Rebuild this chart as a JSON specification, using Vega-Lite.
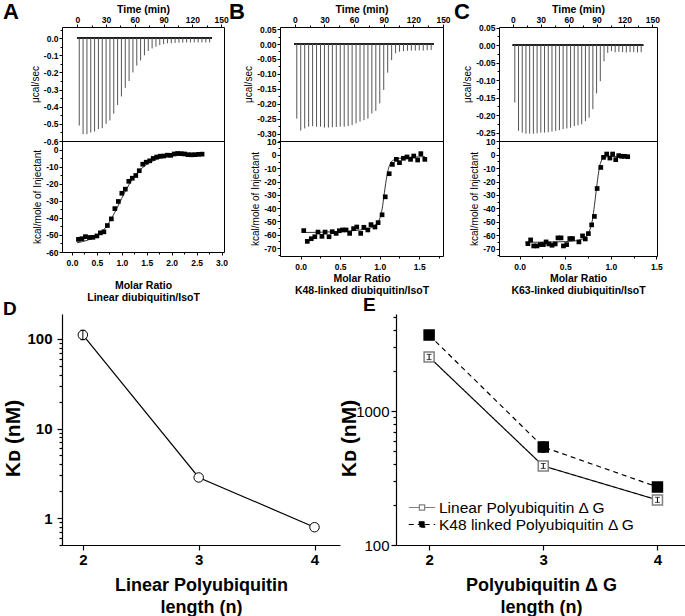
{
  "$schema": "https://vega.github.io/schema/vega-lite/v6.json",
  "padding": {"left": 2, "top": 0, "right": 0, "bottom": 0},
  "config": {
    "font": "Liberation Sans",
    "view": {"stroke": "black", "strokeWidth": 1},
    "axis": {"grid": false, "domainColor": "black", "tickColor": "black", "labelColor": "black", "titleColor": "black", "labelFlush": false, "labelOverlap": false, "labelBound": false, "labelFont": "Liberation Sans", "titleFont": "Liberation Sans"},
    "title": {"font": "Liberation Sans", "fontWeight": "bold", "color": "black"}
  },
  "datasets": {
    "spikesA": [
      {"t": 2, "p": -0.51}, {"t": 6, "p": -0.56}, {"t": 10, "p": -0.56}, {"t": 14, "p": -0.55}, {"t": 18, "p": -0.545},
      {"t": 22, "p": -0.53}, {"t": 26, "p": -0.525}, {"t": 30, "p": -0.5}, {"t": 34, "p": -0.48}, {"t": 38, "p": -0.44},
      {"t": 42, "p": -0.39}, {"t": 46, "p": -0.34}, {"t": 50, "p": -0.29}, {"t": 54, "p": -0.25}, {"t": 58, "p": -0.2},
      {"t": 62, "p": -0.16}, {"t": 66, "p": -0.13}, {"t": 70, "p": -0.1}, {"t": 74, "p": -0.075}, {"t": 78, "p": -0.06},
      {"t": 82, "p": -0.05}, {"t": 86, "p": -0.04}, {"t": 90, "p": -0.035}, {"t": 94, "p": -0.03}, {"t": 98, "p": -0.03},
      {"t": 102, "p": -0.028}, {"t": 106, "p": -0.027}, {"t": 110, "p": -0.026}, {"t": 114, "p": -0.025}, {"t": 118, "p": -0.025},
      {"t": 122, "p": -0.025}, {"t": 126, "p": -0.025}, {"t": 130, "p": -0.025}, {"t": 134, "p": -0.025}, {"t": 138, "p": -0.025}
    ],
    "spikesB": [
      {"t": 2, "p": -0.25}, {"t": 6, "p": -0.29}, {"t": 10, "p": -0.283}, {"t": 14, "p": -0.277}, {"t": 18, "p": -0.275},
      {"t": 22, "p": -0.277}, {"t": 26, "p": -0.277}, {"t": 30, "p": -0.28}, {"t": 34, "p": -0.28}, {"t": 38, "p": -0.279},
      {"t": 42, "p": -0.278}, {"t": 46, "p": -0.277}, {"t": 50, "p": -0.277}, {"t": 54, "p": -0.275}, {"t": 58, "p": -0.272},
      {"t": 62, "p": -0.266}, {"t": 66, "p": -0.26}, {"t": 70, "p": -0.255}, {"t": 74, "p": -0.25}, {"t": 78, "p": -0.233},
      {"t": 82, "p": -0.224}, {"t": 86, "p": -0.199}, {"t": 90, "p": -0.154}, {"t": 94, "p": -0.096}, {"t": 98, "p": -0.054},
      {"t": 102, "p": -0.031}, {"t": 106, "p": -0.026}, {"t": 110, "p": -0.024}, {"t": 114, "p": -0.023}, {"t": 118, "p": -0.022},
      {"t": 122, "p": -0.022}, {"t": 126, "p": -0.021}, {"t": 130, "p": -0.022}, {"t": 134, "p": -0.021}, {"t": 138, "p": -0.02}
    ],
    "spikesC": [
      {"t": 2, "p": -0.164}, {"t": 6, "p": -0.245}, {"t": 10, "p": -0.25}, {"t": 14, "p": -0.253}, {"t": 18, "p": -0.253},
      {"t": 22, "p": -0.253}, {"t": 26, "p": -0.252}, {"t": 30, "p": -0.25}, {"t": 34, "p": -0.25}, {"t": 38, "p": -0.249},
      {"t": 42, "p": -0.247}, {"t": 46, "p": -0.245}, {"t": 50, "p": -0.243}, {"t": 54, "p": -0.24}, {"t": 58, "p": -0.238},
      {"t": 62, "p": -0.236}, {"t": 66, "p": -0.231}, {"t": 70, "p": -0.229}, {"t": 74, "p": -0.226}, {"t": 78, "p": -0.217},
      {"t": 82, "p": -0.207}, {"t": 86, "p": -0.183}, {"t": 90, "p": -0.138}, {"t": 94, "p": -0.103}, {"t": 98, "p": -0.046},
      {"t": 102, "p": -0.022}, {"t": 106, "p": -0.017}, {"t": 110, "p": -0.02}, {"t": 114, "p": -0.019}, {"t": 118, "p": -0.02},
      {"t": 122, "p": -0.021}, {"t": 126, "p": -0.02}, {"t": 130, "p": -0.02}, {"t": 134, "p": -0.021}, {"t": 138, "p": -0.02}
    ],
    "isoA": [
      {"mr": 0.13, "h": -52.6}, {"mr": 0.2, "h": -52.2}, {"mr": 0.27, "h": -51.0}, {"mr": 0.35, "h": -51.5}, {"mr": 0.42, "h": -51.4},
      {"mr": 0.5, "h": -50.6}, {"mr": 0.57, "h": -48.8}, {"mr": 0.64, "h": -48.2}, {"mr": 0.71, "h": -44.5}, {"mr": 0.79, "h": -40.6},
      {"mr": 0.86, "h": -34.6}, {"mr": 0.93, "h": -30.4}, {"mr": 1.0, "h": -25.6}, {"mr": 1.07, "h": -23.2}, {"mr": 1.14, "h": -18.6},
      {"mr": 1.21, "h": -16.8}, {"mr": 1.28, "h": -15.2}, {"mr": 1.35, "h": -12.4}, {"mr": 1.42, "h": -8.6}, {"mr": 1.49, "h": -7.4},
      {"mr": 1.56, "h": -6.6}, {"mr": 1.63, "h": -5.2}, {"mr": 1.7, "h": -4.4}, {"mr": 1.77, "h": -3.9}, {"mr": 1.84, "h": -3.8},
      {"mr": 1.91, "h": -3.3}, {"mr": 1.98, "h": -3.4}, {"mr": 2.05, "h": -2.6}, {"mr": 2.12, "h": -2.3}, {"mr": 2.19, "h": -2.4},
      {"mr": 2.26, "h": -2.6}, {"mr": 2.33, "h": -3.0}, {"mr": 2.4, "h": -3.1}, {"mr": 2.47, "h": -3.0}, {"mr": 2.54, "h": -2.8},
      {"mr": 2.61, "h": -2.7}
    ],
    "fitA": [
      {"mr": 0.1, "h": -54.6}, {"mr": 0.2, "h": -54.0}, {"mr": 0.3, "h": -53.2}, {"mr": 0.4, "h": -52.0}, {"mr": 0.5, "h": -50.3},
      {"mr": 0.6, "h": -48.0}, {"mr": 0.7, "h": -44.7}, {"mr": 0.8, "h": -40.0}, {"mr": 0.9, "h": -34.5}, {"mr": 1.0, "h": -28.5},
      {"mr": 1.1, "h": -22.8}, {"mr": 1.2, "h": -18.0}, {"mr": 1.3, "h": -14.0}, {"mr": 1.4, "h": -11.0}, {"mr": 1.5, "h": -8.7},
      {"mr": 1.6, "h": -7.0}, {"mr": 1.7, "h": -5.7}, {"mr": 1.8, "h": -4.8}, {"mr": 2.0, "h": -3.7}, {"mr": 2.2, "h": -3.1},
      {"mr": 2.4, "h": -2.8}, {"mr": 2.65, "h": -2.6}
    ],
    "isoB": [
      {"mr": 0.04, "h": -56.9}, {"mr": 0.085, "h": -65}, {"mr": 0.135, "h": -63}, {"mr": 0.18, "h": -61.5}, {"mr": 0.22, "h": -58},
      {"mr": 0.27, "h": -61.2}, {"mr": 0.31, "h": -58}, {"mr": 0.36, "h": -61.5}, {"mr": 0.4, "h": -57.7}, {"mr": 0.45, "h": -59},
      {"mr": 0.49, "h": -57}, {"mr": 0.53, "h": -56.4}, {"mr": 0.575, "h": -56.4}, {"mr": 0.62, "h": -59}, {"mr": 0.67, "h": -55.4},
      {"mr": 0.71, "h": -54.2}, {"mr": 0.76, "h": -59}, {"mr": 0.8, "h": -54.4}, {"mr": 0.85, "h": -56.4}, {"mr": 0.89, "h": -52.4},
      {"mr": 0.94, "h": -54.2}, {"mr": 0.98, "h": -50.9}, {"mr": 1.03, "h": -45}, {"mr": 1.07, "h": -31.5}, {"mr": 1.12, "h": -14.1},
      {"mr": 1.16, "h": -7.1}, {"mr": 1.21, "h": -3.3}, {"mr": 1.25, "h": -5.8}, {"mr": 1.3, "h": -2.5}, {"mr": 1.345, "h": -1.5},
      {"mr": 1.39, "h": -3.3}, {"mr": 1.43, "h": -0.8}, {"mr": 1.48, "h": -3.8}, {"mr": 1.52, "h": 1}, {"mr": 1.57, "h": -3.3}
    ],
    "fitB": [
      {"mr": 0.04, "h": -58.3}, {"mr": 0.2, "h": -58.2}, {"mr": 0.4, "h": -57.8}, {"mr": 0.6, "h": -57.2}, {"mr": 0.8, "h": -56.0},
      {"mr": 0.9, "h": -54.5}, {"mr": 0.95, "h": -52.5}, {"mr": 1.0, "h": -48}, {"mr": 1.03, "h": -41}, {"mr": 1.06, "h": -28},
      {"mr": 1.09, "h": -16}, {"mr": 1.12, "h": -8.5}, {"mr": 1.15, "h": -5}, {"mr": 1.2, "h": -3.2}, {"mr": 1.3, "h": -2.2},
      {"mr": 1.45, "h": -1.5}, {"mr": 1.57, "h": -1.2}
    ],
    "isoC": [
      {"mr": 0.09, "h": -66.3}, {"mr": 0.12, "h": -63.5}, {"mr": 0.154, "h": -68}, {"mr": 0.19, "h": -68}, {"mr": 0.227, "h": -67},
      {"mr": 0.26, "h": -67}, {"mr": 0.29, "h": -65}, {"mr": 0.32, "h": -66.5}, {"mr": 0.355, "h": -67.5}, {"mr": 0.39, "h": -66.5},
      {"mr": 0.42, "h": -62}, {"mr": 0.454, "h": -62}, {"mr": 0.48, "h": -68}, {"mr": 0.516, "h": -67}, {"mr": 0.55, "h": -62.5},
      {"mr": 0.58, "h": -62.5}, {"mr": 0.65, "h": -65}, {"mr": 0.69, "h": -60.5}, {"mr": 0.72, "h": -62.8}, {"mr": 0.754, "h": -58.8},
      {"mr": 0.79, "h": -52.3}, {"mr": 0.82, "h": -46}, {"mr": 0.85, "h": -25.2}, {"mr": 0.89, "h": -9.5}, {"mr": 0.92, "h": -2},
      {"mr": 0.955, "h": 0.5}, {"mr": 0.99, "h": -2.5}, {"mr": 1.02, "h": 0.5}, {"mr": 1.054, "h": -3.7}, {"mr": 1.087, "h": -0.7},
      {"mr": 1.12, "h": -1.2}, {"mr": 1.15, "h": -1.2}, {"mr": 1.185, "h": -1.5}
    ],
    "fitC": [
      {"mr": 0.06, "h": -65.3}, {"mr": 0.2, "h": -65.2}, {"mr": 0.4, "h": -65.0}, {"mr": 0.6, "h": -64.3}, {"mr": 0.7, "h": -62.5},
      {"mr": 0.75, "h": -59}, {"mr": 0.78, "h": -54}, {"mr": 0.8, "h": -48}, {"mr": 0.82, "h": -38}, {"mr": 0.84, "h": -27},
      {"mr": 0.86, "h": -16}, {"mr": 0.88, "h": -8}, {"mr": 0.9, "h": -4}, {"mr": 0.93, "h": -2}, {"mr": 1.0, "h": -1.3},
      {"mr": 1.19, "h": -1.2}
    ],
    "dataD": [
      {"n": 2, "kd": 111, "lo": 98, "hi": 125},
      {"n": 3, "kd": 2.84},
      {"n": 4, "kd": 0.79}
    ],
    "dataE": [
      {"series": "Linear Polyubiquitin Δ G", "n": 2, "kd": 2530, "lo": 2420, "hi": 2650},
      {"series": "Linear Polyubiquitin Δ G", "n": 3, "kd": 389, "lo": 373, "hi": 406},
      {"series": "Linear Polyubiquitin Δ G", "n": 4, "kd": 217, "lo": 208, "hi": 227},
      {"series": "K48 linked Polyubiquitin Δ G", "n": 2, "kd": 3690, "lo": 3580, "hi": 3800},
      {"series": "K48 linked Polyubiquitin Δ G", "n": 3, "kd": 539, "lo": 490, "hi": 590},
      {"series": "K48 linked Polyubiquitin Δ G", "n": 4, "kd": 271, "lo": 263, "hi": 279}
    ]
  },
  "columns": 1,
  "align": "none",
  "spacing": -8,
  "resolve": {"scale": {"fill": "independent", "stroke": "independent", "strokeDash": "independent"}},
  "concat": [
    {
      "columns": 3,
      "bounds": "flush",
      "spacing": {"row": 0, "column": 56},
      "concat": [
        {
          "width": 162, "height": 114,
          "title": {"text": "A", "anchor": "start", "frame": "group", "dx": -59, "dy": 20, "offset": 0, "fontSize": 22},
          "data": {"name": "spikesA"},
          "layer": [
            {"mark": {"type": "rule", "color": "#222", "strokeWidth": 1},
             "encoding": {"x": {"datum": 0, "type": "quantitative"}, "x2": {"datum": 140}, "y": {"datum": 0, "type": "quantitative"}}},
            {"mark": {"type": "rule", "color": "#555", "strokeWidth": 1},
             "encoding": {
               "x": {"field": "t", "type": "quantitative", "scale": {"domain": [-16, 153], "nice": false, "zero": false},
                     "axis": {"orient": "top", "tickCount": 100, "values": [0, 15, 30, 45, 60, 75, 90, 105, 120, 135, 150], "format": "d", "labelExpr": "datum.value % 30 == 0 ? datum.label : ''", "tickSize": {"condition": {"test": "datum.value % 30 == 0", "value": 3}, "value": 2}, "title": "Time (min)", "titleFontSize": 10.5, "titleFontWeight": "bold", "titlePadding": 1, "labelFontSize": 8.5, "labelFontWeight": "bold", "labelPadding": 0, "domain": false}},
               "y": {"field": "p", "type": "quantitative", "scale": {"domain": [-0.6, 0.065], "nice": false, "zero": false},
                     "axis": {"tickCount": 100, "values": [0.05, 0, -0.05, -0.1, -0.15, -0.2, -0.25, -0.3, -0.35, -0.4, -0.45, -0.5, -0.55, -0.6], "format": ".1f", "labelExpr": "abs(datum.value*10 - round(datum.value*10)) < 0.001 ? replace(datum.label, '\u2212', '-') : ''", "tickSize": {"condition": {"test": "abs(datum.value*10 - round(datum.value*10)) < 0.001", "value": 3}, "value": 2}, "title": "μcal/sec", "titleFontSize": 10, "titleFontWeight": "normal", "titlePadding": 3, "labelFontSize": 8.5, "labelFontWeight": "bold", "labelPadding": 1, "domain": false}},
               "y2": {"datum": 0}
             }}
          ]
        },
        {
          "width": 163, "height": 114,
          "title": {"text": "B", "anchor": "start", "frame": "group", "dx": -51, "dy": 20, "offset": 0, "fontSize": 22},
          "data": {"name": "spikesB"},
          "layer": [
            {"mark": {"type": "rule", "color": "#222", "strokeWidth": 1},
             "encoding": {"x": {"datum": 0, "type": "quantitative"}, "x2": {"datum": 140}, "y": {"datum": 0, "type": "quantitative"}}},
            {"mark": {"type": "rule", "color": "#555", "strokeWidth": 1},
             "encoding": {
               "x": {"field": "t", "type": "quantitative", "scale": {"domain": [-15, 150], "nice": false, "zero": false},
                     "axis": {"orient": "top", "tickCount": 100, "values": [0, 15, 30, 45, 60, 75, 90, 105, 120, 135, 150], "format": "d", "labelExpr": "datum.value % 30 == 0 ? datum.label : ''", "tickSize": {"condition": {"test": "datum.value % 30 == 0", "value": 3}, "value": 2}, "title": "Time (min)", "titleFontSize": 10.5, "titleFontWeight": "bold", "titlePadding": 1, "labelFontSize": 8.5, "labelFontWeight": "bold", "labelPadding": 0, "domain": false}},
               "y": {"field": "p", "type": "quantitative", "scale": {"domain": [-0.325, 0.057], "nice": false, "zero": false},
                     "axis": {"tickCount": 100, "values": [0.05, 0.025, 0, -0.025, -0.05, -0.075, -0.1, -0.125, -0.15, -0.175, -0.2, -0.225, -0.25, -0.275, -0.3, -0.325], "format": ".2f", "labelExpr": "abs(datum.value*20 - round(datum.value*20)) < 0.001 ? replace(datum.label, '\u2212', '-') : ''", "tickSize": {"condition": {"test": "abs(datum.value*20 - round(datum.value*20)) < 0.001", "value": 3}, "value": 2}, "title": "μcal/sec", "titleFontSize": 10, "titleFontWeight": "normal", "titlePadding": 3, "labelFontSize": 8.5, "labelFontWeight": "bold", "labelPadding": 1, "domain": false}},
               "y2": {"datum": 0}
             }}
          ]
        },
        {
          "width": 158, "height": 114,
          "title": {"text": "C", "anchor": "start", "frame": "group", "dx": -45, "dy": 20, "offset": 0, "fontSize": 22},
          "data": {"name": "spikesC"},
          "layer": [
            {"mark": {"type": "rule", "color": "#222", "strokeWidth": 1},
             "encoding": {"x": {"datum": 0, "type": "quantitative"}, "x2": {"datum": 140}, "y": {"datum": 0, "type": "quantitative"}}},
            {"mark": {"type": "rule", "color": "#555", "strokeWidth": 1},
             "encoding": {
               "x": {"field": "t", "type": "quantitative", "scale": {"domain": [-15, 155], "nice": false, "zero": false},
                     "axis": {"orient": "top", "tickCount": 100, "values": [0, 15, 30, 45, 60, 75, 90, 105, 120, 135, 150], "format": "d", "labelExpr": "datum.value % 30 == 0 ? datum.label : ''", "tickSize": {"condition": {"test": "datum.value % 30 == 0", "value": 3}, "value": 2}, "title": "Time (min)", "titleFontSize": 10.5, "titleFontWeight": "bold", "titlePadding": 1, "labelFontSize": 8.5, "labelFontWeight": "bold", "labelPadding": 0, "domain": false}},
               "y": {"field": "p", "type": "quantitative", "scale": {"domain": [-0.274, 0.052], "nice": false, "zero": false},
                     "axis": {"tickCount": 100, "values": [0.05, 0.025, 0, -0.025, -0.05, -0.075, -0.1, -0.125, -0.15, -0.175, -0.2, -0.225, -0.25], "format": ".2f", "labelExpr": "abs(datum.value*20 - round(datum.value*20)) < 0.001 ? replace(datum.label, '\u2212', '-') : ''", "tickSize": {"condition": {"test": "abs(datum.value*20 - round(datum.value*20)) < 0.001", "value": 3}, "value": 2}, "title": "μcal/sec", "titleFontSize": 10, "titleFontWeight": "normal", "titlePadding": 3, "labelFontSize": 8.5, "labelFontWeight": "bold", "labelPadding": 1, "domain": false}},
               "y2": {"datum": 0}
             }}
          ]
        },
        {
          "width": 162, "height": 111,
          "layer": [
            {"data": {"name": "fitA"},
             "mark": {"type": "line", "color": "black", "strokeWidth": 0.8, "interpolate": "monotone"},
             "encoding": {"x": {"field": "mr", "type": "quantitative"}, "y": {"field": "h", "type": "quantitative"}}},
            {"data": {"name": "isoA"},
             "mark": {"type": "square", "color": "black", "size": 22, "filled": true, "opacity": 1},
             "encoding": {
               "x": {"field": "mr", "type": "quantitative", "scale": {"domain": [-0.2, 3.05], "nice": false, "zero": false},
                     "axis": {"tickCount": 100, "values": [0, 0.25, 0.5, 0.75, 1, 1.25, 1.5, 1.75, 2, 2.25, 2.5, 2.75, 3], "format": ".1f", "labelExpr": "abs(datum.value*2 - round(datum.value*2)) < 0.001 ? datum.label : ''", "tickSize": {"condition": {"test": "abs(datum.value*2 - round(datum.value*2)) < 0.001", "value": 3}, "value": 2}, "title": ["Molar Ratio", "Linear diubiquitin/IsoT"], "titleFontSize": 10.5, "titleFontWeight": "bold", "titleLineHeight": 12, "titlePadding": 14, "labelFontSize": 8.5, "labelFontWeight": "bold", "labelPadding": 3, "domain": false}},
               "y": {"field": "h", "type": "quantitative", "scale": {"domain": [-60, 5], "nice": false, "zero": false},
                     "axis": {"tickCount": 100, "values": [5, 0, -5, -10, -15, -20, -25, -30, -35, -40, -45, -50, -55, -60], "format": "d", "labelExpr": "datum.value % 10 == 0 ? replace(datum.label, '\u2212', '-') : ''", "tickSize": {"condition": {"test": "datum.value % 10 == 0", "value": 3}, "value": 2}, "title": "kcal/mole of Injectant", "titleFontSize": 10, "titleFontWeight": "normal", "titlePadding": 3, "labelFontSize": 8.5, "labelFontWeight": "bold", "labelPadding": 1, "domain": false}}
             }}
          ]
        },
        {
          "width": 163, "height": 115,
          "layer": [
            {"data": {"name": "fitB"},
             "mark": {"type": "line", "color": "black", "strokeWidth": 0.8, "interpolate": "monotone"},
             "encoding": {"x": {"field": "mr", "type": "quantitative"}, "y": {"field": "h", "type": "quantitative"}}},
            {"data": {"name": "isoB"},
             "mark": {"type": "square", "color": "black", "size": 22, "filled": true, "opacity": 1},
             "encoding": {
               "x": {"field": "mr", "type": "quantitative", "scale": {"domain": [-0.26, 1.8], "nice": false, "zero": false},
                     "axis": {"tickCount": 100, "values": [0, 0.25, 0.5, 0.75, 1, 1.25, 1.5, 1.75], "format": ".1f", "labelExpr": "abs(datum.value*2 - round(datum.value*2)) < 0.001 ? datum.label : ''", "tickSize": {"condition": {"test": "abs(datum.value*2 - round(datum.value*2)) < 0.001", "value": 3}, "value": 2}, "title": ["Molar Ratio", "K48-linked diubiquitin/IsoT"], "titleFontSize": 10.5, "titleFontWeight": "bold", "titleLineHeight": 12, "titlePadding": 3, "labelFontSize": 8.5, "labelFontWeight": "bold", "labelPadding": 3, "domain": false}},
               "y": {"field": "h", "type": "quantitative", "scale": {"domain": [-76, 10.5], "nice": false, "zero": false},
                     "axis": {"tickCount": 100, "values": [10, 5, 0, -5, -10, -15, -20, -25, -30, -35, -40, -45, -50, -55, -60, -65, -70, -75], "format": "d", "labelExpr": "datum.value % 10 == 0 ? replace(datum.label, '\u2212', '-') : ''", "tickSize": {"condition": {"test": "datum.value % 10 == 0", "value": 3}, "value": 2}, "title": "kcal/mole of Injectant", "titleFontSize": 10, "titleFontWeight": "normal", "titlePadding": 3, "labelFontSize": 8.5, "labelFontWeight": "bold", "labelPadding": 1, "domain": false}}
             }}
          ]
        },
        {
          "width": 158, "height": 115,
          "layer": [
            {"data": {"name": "fitC"},
             "mark": {"type": "line", "color": "black", "strokeWidth": 0.8, "interpolate": "monotone"},
             "encoding": {"x": {"field": "mr", "type": "quantitative"}, "y": {"field": "h", "type": "quantitative"}}},
            {"data": {"name": "isoC"},
             "mark": {"type": "square", "color": "black", "size": 22, "filled": true, "opacity": 1},
             "encoding": {
               "x": {"field": "mr", "type": "quantitative", "scale": {"domain": [-0.227, 1.507], "nice": false, "zero": false},
                     "axis": {"tickCount": 100, "values": [0, 0.25, 0.5, 0.75, 1, 1.25, 1.5], "format": ".1f", "labelExpr": "abs(datum.value*2 - round(datum.value*2)) < 0.001 ? datum.label : ''", "tickSize": {"condition": {"test": "abs(datum.value*2 - round(datum.value*2)) < 0.001", "value": 3}, "value": 2}, "title": ["Molar Ratio", "K63-linked diubiquitin/IsoT"], "titleFontSize": 10.5, "titleFontWeight": "bold", "titleLineHeight": 12, "titlePadding": 3, "labelFontSize": 8.5, "labelFontWeight": "bold", "labelPadding": 3, "domain": false}},
               "y": {"field": "h", "type": "quantitative", "scale": {"domain": [-75.5, 10.2], "nice": false, "zero": false},
                     "axis": {"tickCount": 100, "values": [10, 5, 0, -5, -10, -15, -20, -25, -30, -35, -40, -45, -50, -55, -60, -65, -70, -75], "format": "d", "labelExpr": "datum.value % 10 == 0 ? replace(datum.label, '\u2212', '-') : ''", "tickSize": {"condition": {"test": "datum.value % 10 == 0", "value": 3}, "value": 2}, "title": "kcal/mole of Injectant", "titleFontSize": 10, "titleFontWeight": "normal", "titlePadding": 3, "labelFontSize": 8.5, "labelFontWeight": "bold", "labelPadding": 1, "domain": false}}
             }}
          ]
        }
      ]
    },
    {
      "bounds": "flush",
      "spacing": 56,
      "resolve": {"scale": {"fill": "independent", "stroke": "independent", "strokeDash": "independent"}},
      "hconcat": [
        {
          "width": 278, "height": 231,
          "view": {"stroke": null},
          "title": {"text": "D", "anchor": "start", "frame": "group", "dx": -59, "dy": 5, "offset": 0, "fontSize": 19},
          "data": {"name": "dataD"},
          "layer": [
            {"mark": {"type": "line", "color": "black", "strokeWidth": 1.2},
             "encoding": {
               "x": {"field": "n", "type": "quantitative", "scale": {"domain": [1.82, 4.22], "nice": false, "zero": false},
                     "axis": {"tickCount": 100, "values": [2, 2.5, 3, 3.5, 4], "format": "d", "labelExpr": "datum.value % 1 == 0 ? datum.label : ''", "tickSize": {"condition": {"test": "datum.value % 1 == 0", "value": 5}, "value": 3}, "labelFontSize": 15, "labelFontWeight": "bold", "labelPadding": 2, "title": ["Linear Polyubiquitin", "length (n)"], "titleFontSize": 18, "titleFontWeight": "bold", "titleLineHeight": 22, "titlePadding": 9, "domainWidth": 1.2, "tickWidth": 1.2}},
               "y": {"field": "kd", "type": "quantitative", "title": "Kᴅ (nM)", "scale": {"type": "log", "domain": [0.5, 190], "nice": false},
                     "axis": {"tickCount": 100, "values": [0.5, 0.6, 0.7, 0.8, 0.9, 1, 2, 3, 4, 5, 6, 7, 8, 9, 10, 20, 30, 40, 50, 60, 70, 80, 90, 100], "format": "~g", "labelExpr": "datum.value == 1 || datum.value == 10 || datum.value == 100 ? datum.label : ''", "tickSize": {"condition": {"test": "datum.value == 1 || datum.value == 10 || datum.value == 100", "value": 5}, "value": 3}, "labelFontSize": 15, "labelFontWeight": "bold", "labelPadding": 5, "titleFontSize": 21, "titleFontWeight": "bold", "titleX": -49, "titleY": 124, "titleBaseline": "middle", "domainWidth": 1.2, "tickWidth": 1.2}}
             }},
            {"mark": {"type": "point", "shape": "circle", "filled": true, "fill": "white", "stroke": "black", "strokeWidth": 1, "size": 90, "opacity": 1},
             "encoding": {"x": {"field": "n", "type": "quantitative"}, "y": {"field": "kd", "type": "quantitative", "title": "Kᴅ (nM)"}}},
            {"transform": [{"filter": "isValid(datum.lo)"}],
             "mark": {"type": "errorbar", "ticks": true, "color": "black"},
             "encoding": {"x": {"field": "n", "type": "quantitative"}, "y": {"field": "lo", "type": "quantitative", "title": "Kᴅ (nM)"}, "y2": {"field": "hi"}}}
          ]
        },
        {
          "width": 290, "height": 231,
          "view": {"stroke": null},
          "title": {"text": "E", "anchor": "start", "frame": "group", "dx": -33, "dy": 5, "offset": 0, "fontSize": 19},
          "data": {"name": "dataE"},
          "layer": [
            {"mark": {"type": "line", "color": "black", "strokeWidth": 1.2},
             "encoding": {
               "x": {"field": "n", "type": "quantitative", "scale": {"domain": [1.71, 4.25], "nice": false, "zero": false},
                     "axis": {"tickCount": 100, "values": [2, 2.5, 3, 3.5, 4], "format": "d", "labelExpr": "datum.value % 1 == 0 ? datum.label : ''", "tickSize": {"condition": {"test": "datum.value % 1 == 0", "value": 5}, "value": 3}, "labelFontSize": 15, "labelFontWeight": "bold", "labelPadding": 2, "title": ["Polyubiquitin Δ G", "length (n)"], "titleFontSize": 18, "titleFontWeight": "bold", "titleLineHeight": 22, "titlePadding": 9, "domainWidth": 1.2, "tickWidth": 1.2}},
               "y": {"field": "kd", "type": "quantitative", "title": "Kᴅ (nM)", "scale": {"type": "log", "domain": [100, 5300], "nice": false},
                     "axis": {"tickCount": 100, "values": [100, 200, 300, 400, 500, 600, 700, 800, 900, 1000, 2000, 3000, 4000, 5000], "format": "d", "labelExpr": "datum.value == 100 || datum.value == 1000 ? datum.label : ''", "tickSize": {"condition": {"test": "datum.value == 100 || datum.value == 1000", "value": 5}, "value": 3}, "labelFontSize": 15, "labelFontWeight": "normal", "labelPadding": 2, "titleFontSize": 21, "titleFontWeight": "bold", "titleX": -47, "titleY": 124, "titleBaseline": "middle", "domainWidth": 1.2, "tickWidth": 1.2}},
               "strokeDash": {"field": "series", "type": "nominal", "scale": {"domain": ["Linear Polyubiquitin Δ G", "K48 linked Polyubiquitin Δ G"], "range": [[1, 0], [5, 4]]},
                     "legend": {"title": null, "orient": "bottom-left", "offset": 12, "symbolType": "M-1,0H-0.2M0.2,0H1M-0.2,-0.2H0.2V0.2H-0.2Z", "symbolSize": 700, "symbolStrokeWidth": 1.2, "symbolStrokeColor": "black", "labelFontSize": 15.5, "labelFont": "Liberation Sans", "labelOffset": 3, "clipHeight": 17, "rowPadding": 0, "padding": 0, "labelLimit": 300}}
             }},
            {"mark": {"type": "square", "size": 100, "strokeWidth": 1.5, "opacity": 1},
             "encoding": {
               "x": {"field": "n", "type": "quantitative"},
               "y": {"field": "kd", "type": "quantitative", "title": "Kᴅ (nM)"},
               "fill": {"field": "series", "type": "nominal", "scale": {"domain": ["Linear Polyubiquitin Δ G", "K48 linked Polyubiquitin Δ G"], "range": ["white", "black"]},
                     "legend": {"title": null, "orient": "bottom-left", "offset": 12, "symbolType": "M-1,0H-0.2M0.2,0H1M-0.2,-0.2H0.2V0.2H-0.2Z", "symbolSize": 700, "symbolStrokeWidth": 1.2, "symbolStrokeColor": "black", "labelFontSize": 15.5, "labelFont": "Liberation Sans", "labelOffset": 3, "clipHeight": 17, "rowPadding": 0, "padding": 0, "labelLimit": 300}},
               "stroke": {"field": "series", "type": "nominal", "scale": {"domain": ["Linear Polyubiquitin Δ G", "K48 linked Polyubiquitin Δ G"], "range": ["#808080", "black"]}, "legend": null}
             }},
            {"mark": {"type": "errorbar", "ticks": true, "color": "black"},
             "encoding": {"x": {"field": "n", "type": "quantitative"}, "y": {"field": "lo", "type": "quantitative", "title": "Kᴅ (nM)"}, "y2": {"field": "hi"}}}
          ]
        }
      ]
    }
  ]
}
